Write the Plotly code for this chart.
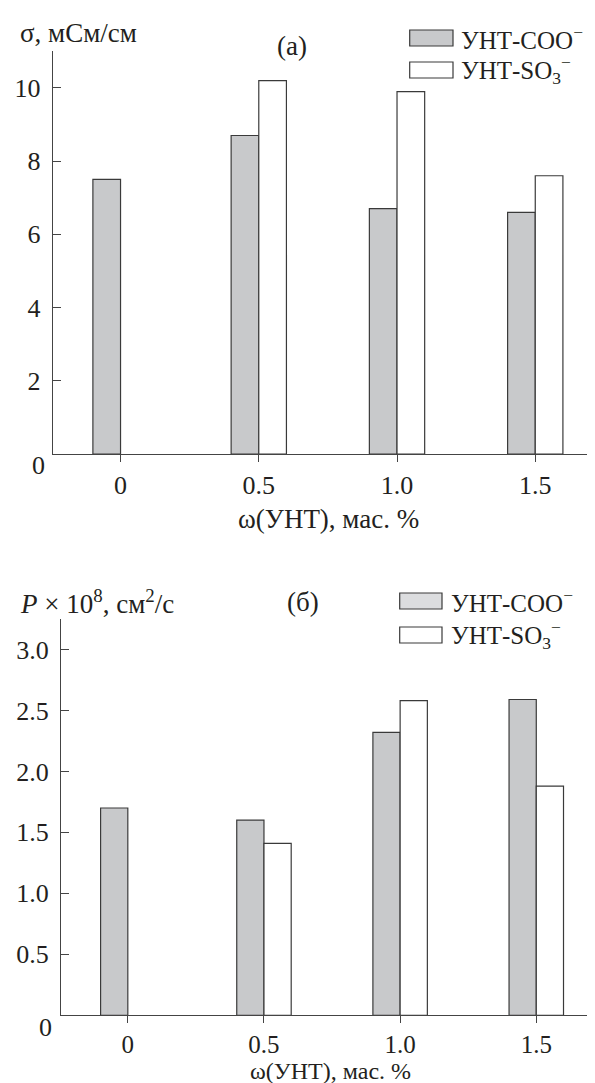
import plotly.graph_objects as go

W, H = 595, 1083

# ---- data ----
x_coo = [0.0, 0.5, 1.0, 1.5]
x_so3 = [0.5, 1.0, 1.5]
sigma_coo = [7.5, 8.7, 6.7, 6.6]
sigma_so3 = [10.2, 9.9, 7.6]
perm_coo = [1.7, 1.6, 2.32, 2.59]
perm_so3 = [1.41, 2.58, 1.88]
x_ticks = [0, 0.5, 1.0, 1.5]
x_ticktext = ["0", "0.5", "1.0", "1.5"]
y1_ticks = [2, 4, 6, 8, 10]
y2_ticks = [0.5, 1.0, 1.5, 2.0, 2.5, 3.0]
y2_ticktext = ["0.5", "1.0", "1.5", "2.0", "2.5", "3.0"]

GRAY = "#c8c9cb"
EDGE = "#3a3a3a"
AX = "#444444"
FONT = "Liberation Serif, Times New Roman, serif"
TXT = "#231f20"


def px(x):
    return x / W


def py(y):
    return 1 - y / H


fig = go.Figure()
bar_line = dict(color=EDGE, width=1.2)
fig.add_trace(go.Bar(x=x_coo, y=sigma_coo, offset=-0.1, width=0.1,
                     marker=dict(color=GRAY, line=bar_line),
                     xaxis="x", yaxis="y", showlegend=False))
fig.add_trace(go.Bar(x=x_so3, y=sigma_so3, offset=0.0, width=0.1,
                     marker=dict(color="white", line=bar_line),
                     xaxis="x", yaxis="y", showlegend=False))
fig.add_trace(go.Bar(x=x_coo, y=perm_coo, offset=-0.1, width=0.1,
                     marker=dict(color=GRAY, line=bar_line),
                     xaxis="x2", yaxis="y2", showlegend=False))
fig.add_trace(go.Bar(x=x_so3, y=perm_so3, offset=0.0, width=0.1,
                     marker=dict(color="white", line=bar_line),
                     xaxis="x2", yaxis="y2", showlegend=False))

tickfont = dict(family=FONT, size=26, color=TXT)
xcommon = dict(range=[-0.245, 1.745], tickmode="array", tickvals=x_ticks,
               ticktext=x_ticktext, ticks="outside", ticklen=7, tickwidth=1.3,
               tickcolor=AX, showline=True, linecolor=AX, linewidth=1.3,
               showgrid=False, zeroline=False, fixedrange=True)
ycommon = dict(ticks="inside", ticklen=8, tickwidth=1.3, tickcolor=AX,
               showline=True, linecolor=AX, linewidth=1.3, showgrid=False,
               zeroline=False, tickfont=tickfont, fixedrange=True,
               ticklabelstandoff=6)

fig.update_layout(
    width=W, height=H,
    margin=dict(l=0, r=0, t=0, b=0),
    paper_bgcolor="white", plot_bgcolor="white",
    barmode="overlay",
    xaxis=dict(domain=[px(44.8), 1.0], anchor="y", **xcommon,
               tickfont=tickfont, ticklabelstandoff=1),
    yaxis=dict(domain=[py(446), py(43.3)], anchor="x", range=[0, 11],
               tickmode="array", tickvals=y1_ticks, **ycommon),
    xaxis2=dict(domain=[px(53.1), 1.0], anchor="y2", **xcommon,
                tickfont=dict(family=FONT, size=25, color=TXT), ticklabelstandoff=0),
    yaxis2=dict(domain=[py(1007.3), py(611)], anchor="x2", range=[0, 3.25],
                tickmode="array", tickvals=y2_ticks, ticktext=y2_ticktext, **ycommon),
    showlegend=False,
)


def ann(x, y, text, xanchor="center", size=27, yanchor="middle"):
    fig.add_annotation(x=px(x), y=py(y), xref="paper", yref="paper", text=text,
                       showarrow=False, xanchor=xanchor, yanchor=yanchor,
                       font=dict(family=FONT, size=size, color=TXT))


# axis titles and panel labels
ann(10, 25, "σ, мСм/см", "left")
ann(284, 38, "(а)")
ann(320, 511, "ω(УНТ), мас. %")
ann(10, 594, "<i>P</i> × 10<sup>8</sup>, см<sup>2</sup>/с", "left")
ann(295, 594, "(б)")
ann(322, 1063, "ω(УНТ), мас. %", size=24)
# zero labels of y axes
ann(30, 458, "0", size=26)
ann(37.6, 1019, "0", size=26)


# custom legends
def legend_box(x0, x1, y0, y1, fill):
    fig.add_shape(type="rect", xref="paper", yref="paper",
                  x0=px(x0), x1=px(x1), y0=py(y1), y1=py(y0),
                  fillcolor=fill, line=dict(color=EDGE, width=1.2))


def legend_rows(bx0, bx1, tx, yc1, yc2, fill1):
    legend_box(bx0, bx1, yc1 - 8, yc1 + 8, fill1)
    legend_box(bx0, bx1, yc2 - 8, yc2 + 8, "white")
    ann(tx, yc1, "УНТ-COO<sup>−</sup>", "left", size=25)
    ann(tx, yc2, "УНТ-SO<sub>3</sub><sup>−</sup>", "left", size=25)


legend_rows(401.7, 445, 451, 30, 62, GRAY)
legend_rows(391.7, 434, 441, 593, 627, "#dcdddf")

fig.write_html("out.html")
